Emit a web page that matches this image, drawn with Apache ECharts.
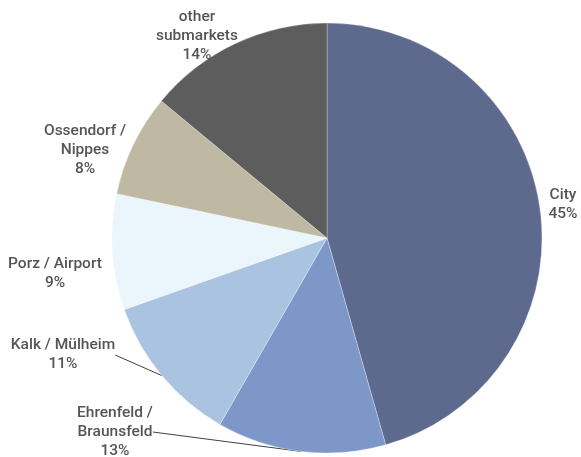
<!DOCTYPE html>
<html>
<head>
<meta charset="utf-8">
<script src="https://cdn.jsdelivr.net/npm/echarts@6/dist/echarts.min.js"></script>
<style>
  html, body { margin: 0; padding: 0; background: #fff; }
  #chart { width: 581px; height: 457px; }
</style>
</head>
<body>
<div id="chart"></div>
<script>
// submarkets, clockwise from 12 o'clock
const names = ['City', 'Ehrenfeld /\nBraunsfeld', 'Kalk / Mülheim', 'Porz / Airport', 'Ossendorf /\nNippes', 'other\nsubmarkets']
// slice sizes as drawn, and the printed (rounded) percentages
const shares = [45.6, 12.7, 11.3, 8.7, 7.7, 14.0]
const pctLabels = ['45%', '13%', '11%', '9%', '8%', '14%']
const colors = ['#5e6a8d', '#7d97c9', '#a9c3e1', '#eaf5fc', '#bfb9a3', '#5d5d5d']

// label anchor points (text block centres)
const labelPos = [[563, 205], [115, 432], [63, 355], [55, 274], [85, 150], [197, 36]]
const showLine = [false, true, true, false, false, false]

const chart = echarts.init(document.getElementById('chart'))

chart.setOption({
  animation: false,
  series: [{
    type: 'pie',
    center: [327, 238],
    radius: 215,
    startAngle: 90,
    clockwise: true,
    itemStyle: { borderColor: '#fff', borderWidth: 0.3 },
    label: {
      show: true,
      formatter: p => p.name + '\n' + pctLabels[p.dataIndex],
      color: '#555',
      fontFamily: 'Roboto',
      fontSize: 15.5,
      fontWeight: 500,
      lineHeight: 19,
      align: 'center',
      overflow: 'none'
    },
    labelLine: { show: true, length: 0, length2: 0, lineStyle: { color: '#404040', width: 1 } },
    labelLayout: p => ({
      x: labelPos[p.dataIndex][0],
      y: labelPos[p.dataIndex][1],
      align: 'center',
      verticalAlign: 'middle'
    }),
    emphasis: { disabled: true },
    data: names.map((n, i) => ({
      name: n,
      value: shares[i],
      itemStyle: { color: colors[i] },
      labelLine: { show: showLine[i] }
    }))
  }]
})
</script>
</body>
</html>
